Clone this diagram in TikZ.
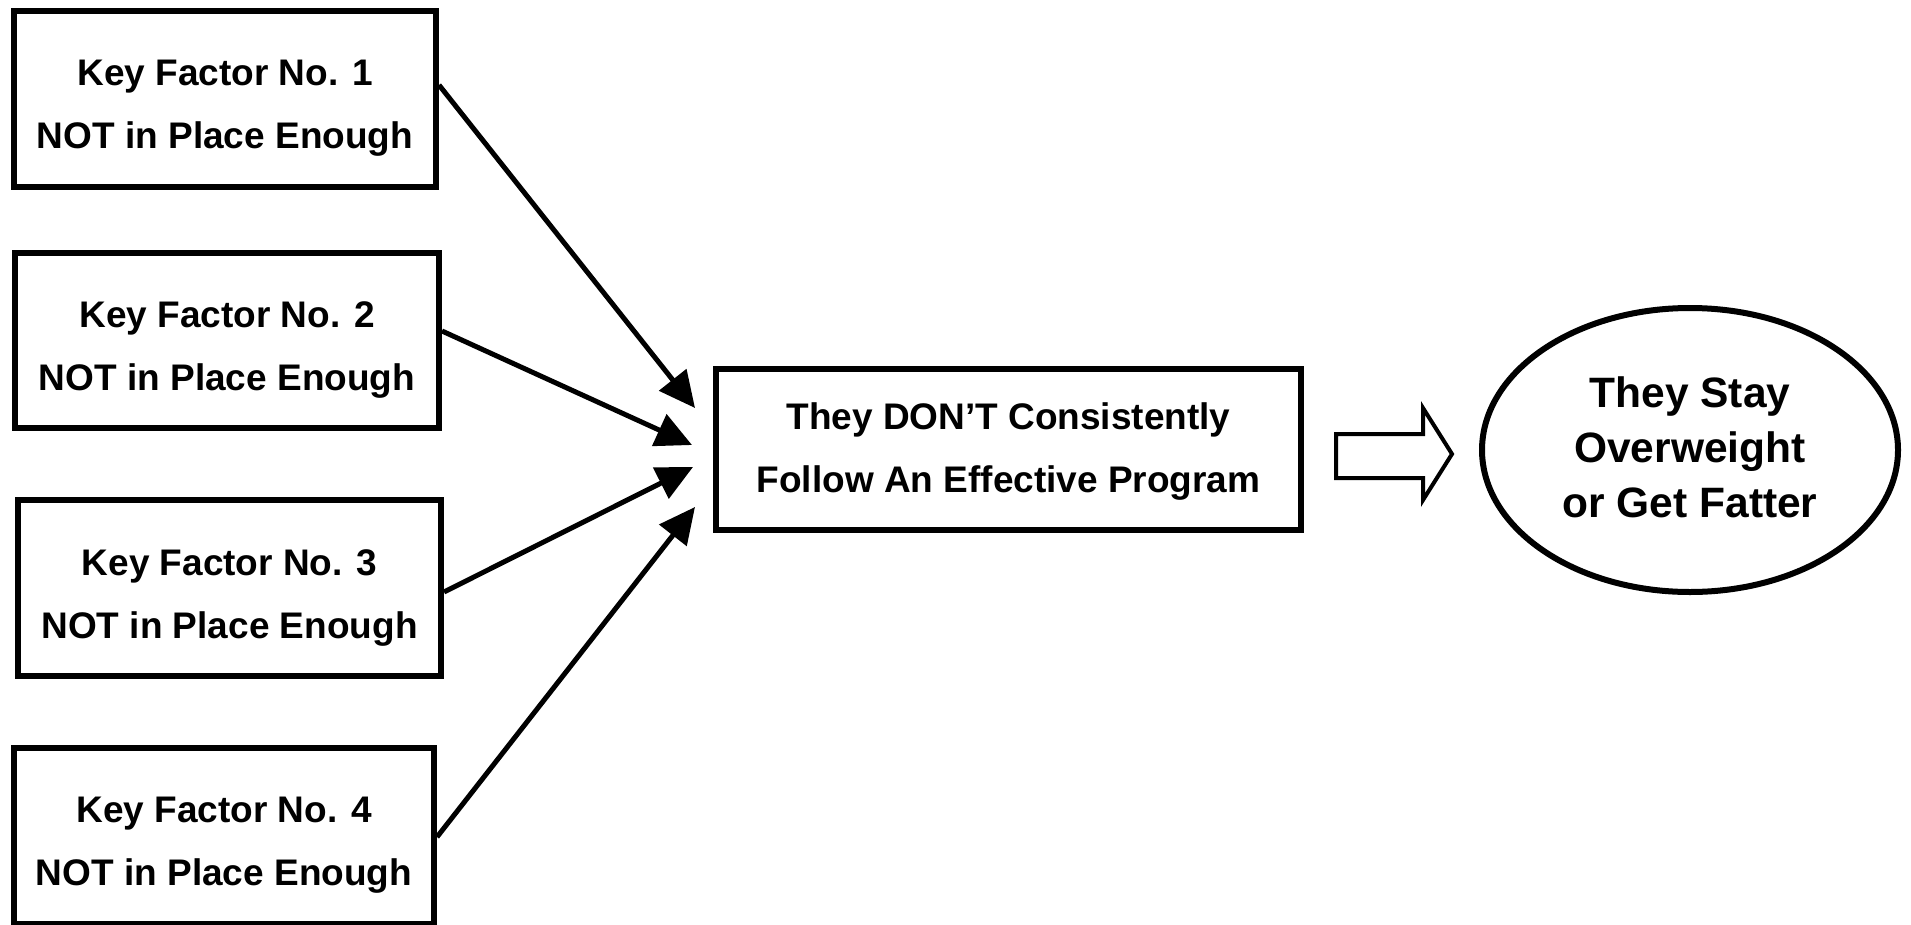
\documentclass[tikz,border=0pt]{standalone}
\usepackage{fontspec}
\setmainfont{Liberation Sans}
\usetikzlibrary{arrows.meta,shapes.geometric}

\begin{document}
\begin{tikzpicture}[x=1pt,y=-1pt,
  factor/.style={draw,line width=6pt,rectangle,inner sep=0pt,
    minimum width=422pt,minimum height=176pt},
  midbox/.style={draw,line width=6pt,rectangle,inner sep=0pt,
    minimum width=585pt,minimum height=161pt},
  outcome/.style={draw,line width=6pt,ellipse,inner sep=0pt,
    minimum width=416pt,minimum height=284pt},
  boxtext/.style={align=center,inner sep=0pt,
    font=\fontsize{37}{63}\selectfont\bfseries},
  bigtext/.style={align=center,inner sep=0pt,
    font=\fontsize{42.5}{55}\selectfont\bfseries},
  conn/.style={line width=5pt,-{Triangle[length=36pt,width=34pt]}},
  hollow/.style={draw,line width=4pt,fill=white,line join=miter}
]
\useasboundingbox (0,0) rectangle (1911,924);

% four contributing factors
\node[factor,label={[boxtext,yshift=-9.5pt]center:Key Factor No. 1\\NOT in Place Enough}]
  (k1) at (225,99) {};
\node[factor,minimum width=424pt,minimum height=175pt,
  label={[boxtext,yshift=-9.5pt]center:Key Factor No. 2\\NOT in Place Enough}]
  (k2) at (227,340.5) {};
\node[factor,minimum width=423pt,
  label={[boxtext,yshift=-9.5pt]center:Key Factor No. 3\\NOT in Place Enough}]
  (k3) at (229.5,588) {};
\node[factor,minimum width=420pt,
  label={[boxtext,yshift=-9pt]center:Key Factor No. 4\\NOT in Place Enough}]
  (k4) at (224,836) {};

% central behaviour and its outcome
\node[midbox,label={[boxtext,yshift=-2.5pt]center:They DON’T Consistently\\Follow An Effective Program}]
  (mid) at (1008.5,449.5) {};
\node[outcome,label={[bigtext,yshift=2.5pt]center:They Stay\\Overweight\\or Get Fatter}]
  (out) at (1690,450) {};

% factor arrows into the central box
\draw[conn] ([yshift=14pt]k1.east)  -- ([xshift=-18pt,yshift=41.5pt]mid.west);
\draw[conn] ([yshift=9.5pt]k2.east) -- ([xshift=-21pt,yshift=4.5pt]mid.west);
\draw[conn] ([yshift=-4pt]k3.east)  -- ([xshift=-20pt,yshift=-17.5pt]mid.west);
\draw[conn] ([yshift=-1pt]k4.east)  -- ([xshift=-18pt,yshift=-57.5pt]mid.west);

% outlined block arrow towards the outcome
\path[hollow] (1336,434) -- (1423,434) -- (1423,408) -- (1452,454)
  -- (1423,500) -- (1423,478) -- (1336,478) -- cycle;
\end{tikzpicture}
\end{document}
